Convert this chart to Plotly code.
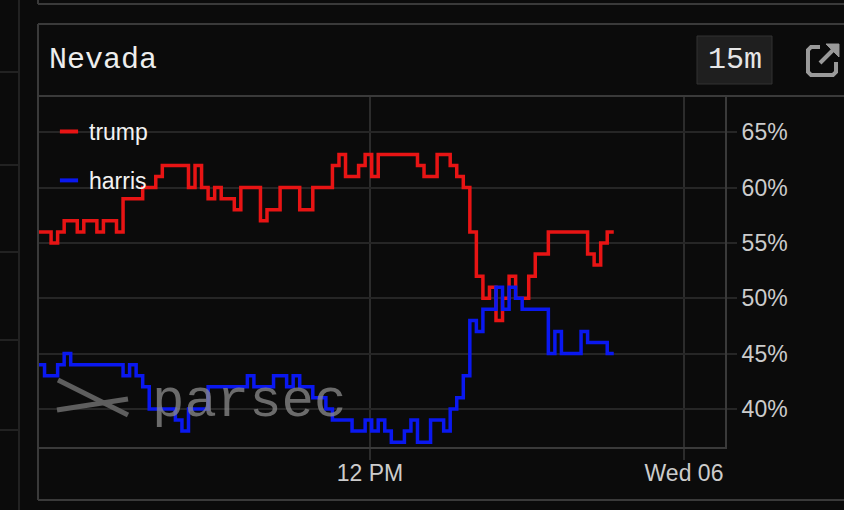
import pandas as pd
import plotly.graph_objects as go

# Polymarket-style odds for Nevada, 15 minute candles (percent)
start = "2024-11-04 23:19"
trump = [
    56, 56, 55, 56, 57, 57, 56, 57, 57, 56, 57, 57, 56, 59, 59, 59, 60, 60,
    61, 62, 62, 62, 62, 60, 62, 60, 59, 60, 59, 59, 58, 60, 60, 60, 57, 58,
    58, 60, 60, 60, 58, 58, 60, 60, 60, 62, 63, 61, 61, 62, 63, 61, 63, 63,
    63, 63, 63, 63, 62, 61, 61, 63, 63, 62, 61, 60, 56, 52, 50, 51, 48, 50,
    52, 50, 50, 52, 54, 54, 56, 56, 56, 56, 56, 56, 54, 53, 55, 56, 56,
]
harris = [
    44, 43, 43, 44, 45, 44, 44, 44, 44, 44, 44, 44, 44, 43, 44, 43, 42, 40,
    40, 40, 40, 39, 38, 40, 40, 40, 42, 42, 42, 42, 42, 42, 43, 42, 42, 42,
    43, 43, 42, 43, 42, 42, 41, 41, 40, 39, 39, 39, 38, 38, 39, 38, 39, 38,
    37, 37, 38, 39, 37, 37, 39, 39, 38, 40, 41, 43, 48, 47, 49, 49, 51, 49,
    51, 50, 49, 49, 49, 49, 45, 47, 45, 45, 45, 47, 46, 46, 46, 45, 45,
]
times = pd.date_range(start, periods=len(trump), freq="15min")

x_range = ["2024-11-04 23:19", "2024-11-06 01:34"]
x_ticks = ["2024-11-05 12:00", "2024-11-06 00:00"]
x_labels = ["12 PM", "Wed 06"]
y_ticks = [40, 45, 50, 55, 60, 65]
y_labels = [f"{v}%" for v in y_ticks]

RED = "#e81414"
BLUE = "#0a18f0"
BG = "#0b0b0b"
GRID = "#262626"
EDGE = "#3a3a3a"
SANS = "Liberation Sans, Arial, sans-serif"
MONO = "Liberation Mono, Courier New, monospace"

# plot area in pixels, used to place the panel chrome
L, R, T, B = 38, 725, 96, 447


def px(x):
    return (x - L) / (R - L)


def py(y):
    return (B - y) / (B - T)


def path(points, close=False):
    s = "M" + " L".join(f"{px(x):.4f},{py(y):.4f}" for x, y in points)
    return s + (" Z" if close else "")


def seg(x0, y0, x1, y1, color=EDGE, width=2):
    return dict(type="line", xref="paper", yref="paper",
                x0=px(x0), y0=py(y0), x1=px(x1), y1=py(y1),
                line=dict(color=color, width=width))


fig = go.Figure()

for name, values, color in [("trump", trump, RED), ("harris", harris, BLUE)]:
    fig.add_trace(go.Scatter(
        x=times, y=values, mode="lines", line=dict(color=color, width=3.5, shape="hv"),
        name=name, legendgroup=name, showlegend=False, hoverinfo="skip",
    ))
    # short dash for the legend key
    fig.add_trace(go.Scatter(
        x=[None], y=[None], mode="markers", name=name, legendgroup=name,
        marker=dict(symbol="line-ew", size=13, line=dict(width=4, color=color)),
    ))

shapes = [
    # neighbouring ui
    seg(38, 0, 38, 4), seg(38, 4, 850, 4),
    seg(19, 0, 19, 510, color="#222"),
    seg(0, 72, 19, 72, color="#222"), seg(0, 165, 19, 165, color="#222"),
    seg(0, 252, 19, 252, color="#222"), seg(0, 340, 19, 340, color="#222"),
    seg(0, 430, 19, 430, color="#222"),
    # panel frame
    seg(38, 24, 850, 24), seg(38, 24, 38, 500), seg(38, 500, 850, 500),
    seg(38, 96, 850, 96),
    # interval box
    dict(type="rect", xref="paper", yref="paper",
         x0=px(697), y0=py(36), x1=px(772), y1=py(84),
         fillcolor="#1f1f1f", line=dict(color="#333", width=1)),
    # external link icon
    dict(type="path", xref="paper", yref="paper",
         path=path([(820, 47), (811, 47), (808, 50), (808, 72), (811, 75),
                    (833, 75), (836, 72), (836, 62)]),
         line=dict(color="#9a9a9a", width=4)),
    seg(820, 63, 834, 49, color="#9a9a9a", width=4),
    dict(type="path", xref="paper", yref="paper",
         path=path([(826, 44), (839, 44), (839, 57)], close=True),
         fillcolor="#9a9a9a", line=dict(color="#9a9a9a", width=1)),
    # watermark logo
    seg(58, 380, 128, 415, color="#5e5e5e", width=5),
    seg(57, 410, 128, 399, color="#5e5e5e", width=5),
]

annotations = [
    dict(text="Nevada", xref="paper", yref="paper", x=px(47), y=py(60),
         xanchor="left", yanchor="middle", showarrow=False,
         font=dict(family=MONO, size=30, color="#eeeeee")),
    dict(text="15m", xref="paper", yref="paper", x=px(734.5), y=py(60),
         xanchor="center", yanchor="middle", showarrow=False,
         font=dict(family=MONO, size=30, color="#e6e6e6")),
    dict(text="parsec", xref="paper", yref="paper", x=px(150), y=py(401),
         xanchor="left", yanchor="middle", showarrow=False,
         font=dict(family=MONO, size=54, color="rgba(140,140,140,0.75)")),
]

fig.update_layout(
    width=844, height=510,
    margin=dict(l=L, r=844 - R, t=T, b=510 - B),
    paper_bgcolor=BG, plot_bgcolor=BG,
    shapes=shapes, annotations=annotations,
    showlegend=True,
    legend=dict(x=px(49), y=0.96, xanchor="left", yanchor="top",
                bgcolor="rgba(0,0,0,0)", tracegroupgap=16,
                font=dict(family=SANS, size=23, color="#f2f2f2")),
    xaxis=dict(
        type="date", range=x_range, tickvals=x_ticks, ticktext=x_labels,
        showgrid=True, gridcolor="#2c2c2c", gridwidth=2,
        ticks="outside", ticklen=11, tickcolor="#2c2c2c", tickwidth=2,
        ticklabelstandoff=-7,
        showline=True, linecolor=EDGE, linewidth=2,
        tickfont=dict(family=SANS, size=23, color="#cccccc"),
        zeroline=False, fixedrange=True,
    ),
    yaxis=dict(
        side="right", range=[36.56, 68.28], tickvals=y_ticks, ticktext=y_labels,
        showgrid=True, gridcolor=GRID, gridwidth=2,
        ticks="outside", ticklen=10, tickcolor=GRID, tickwidth=2,
        showline=True, linecolor=EDGE, linewidth=2,
        tickfont=dict(family=SANS, size=23, color="#cccccc"),
        zeroline=False, fixedrange=True,
    ),
)

fig.write_html("out.html", config={"displayModeBar": False},
               post_script="document.body.style.margin='0';")
